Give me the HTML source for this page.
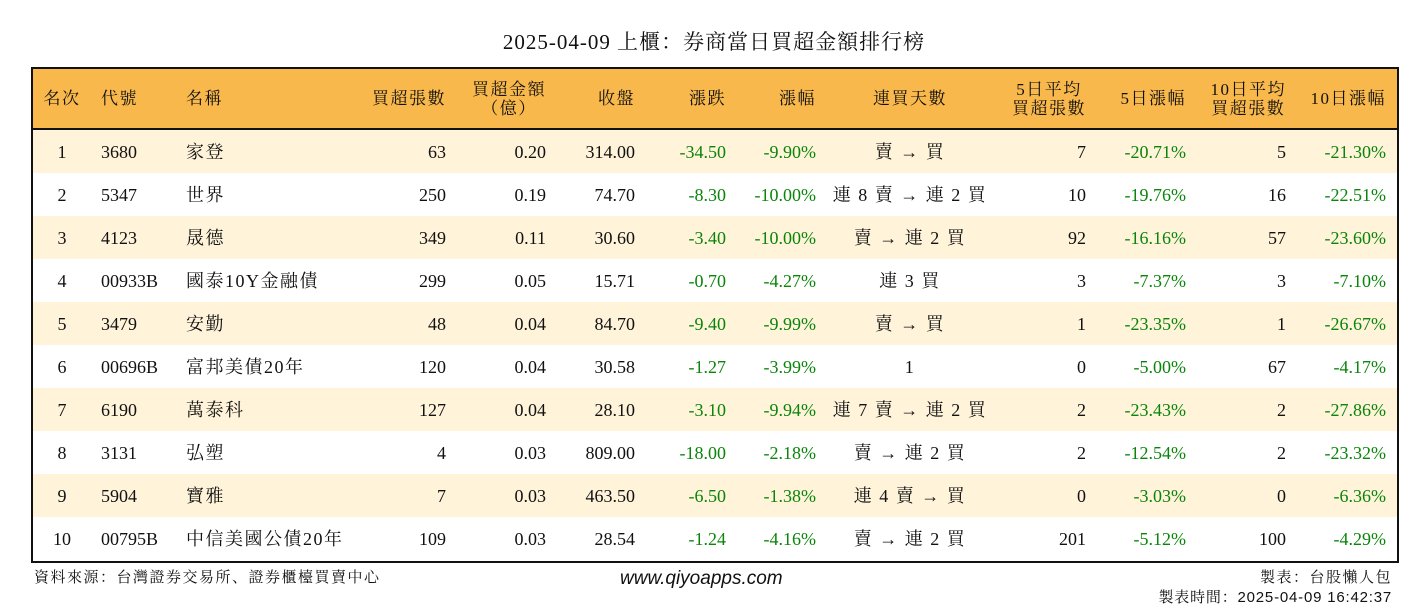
<!DOCTYPE html>
<html><head><meta charset="utf-8">
<style>
body{margin:0;width:1428px;height:612px;background:#fff;position:relative;overflow:hidden;font-family:"Liberation Serif","Noto Serif CJK SC",serif;color:#111}
.a{position:absolute;white-space:nowrap;font-size:18px;line-height:20px}
#tbl{position:absolute;left:31px;top:67px;width:1364px;height:492px;border:2px solid #111}
</style></head><body>
<div class="a" style="left:0;width:1428px;text-align:center;top:30px;font-size:21px;line-height:24px;letter-spacing:1px">2025-04-09 上櫃：券商當日買超金額排行榜</div>
<div id="tbl"></div>
<div class="a" style="left:34px;top:567px;font-size:15px;letter-spacing:1.5px;font-family:'Noto Serif CJK SC',serif">資料來源：台灣證券交易所、證券櫃檯買賣中心</div>
<div class="a" style="left:620px;top:569px;font-size:19px;font-style:italic;font-family:'Liberation Sans',sans-serif">www.qiyoapps.com</div>
<div class="a" style="right:36px;top:567px;font-size:15px;letter-spacing:1.5px;font-family:'Noto Serif CJK SC',serif">製表：台股懶人包</div>
<div class="a" style="right:36px;top:588px;font-size:15px;letter-spacing:0.8px;font-family:'Liberation Sans','Noto Serif CJK SC',sans-serif">製表時間：2025-04-09 16:42:37</div>
<script>
const headers=["名次","代號","名稱","買超張數","買超金額<br>（億）","收盤","漲跌","漲幅","連買天數","5日平均<br>買超張數","5日漲幅","10日平均<br>買超張數","10日漲幅"];
const ranks=["1","2","3","4","5","6","7","8","9","10"];
const codes=["3680","5347","4123","00933B","3479","00696B","6190","3131","5904","00795B"];
const names=["家登","世界","晟德","國泰10Y金融債","安勤","富邦美債20年","萬泰科","弘塑","寶雅","中信美國公債20年"];
const buyLots=["63","250","349","299","48","120","127","4","7","109"];
const buyAmt=["0.20","0.19","0.11","0.05","0.04","0.04","0.04","0.03","0.03","0.03"];
const closes=["314.00","74.70","30.60","15.71","84.70","30.58","28.10","809.00","463.50","28.54"];
const changes=["-34.50","-8.30","-3.40","-0.70","-9.40","-1.27","-3.10","-18.00","-6.50","-1.24"];
const pcts=["-9.90%","-10.00%","-10.00%","-4.27%","-9.99%","-3.99%","-9.94%","-2.18%","-1.38%","-4.16%"];
const streaks=["賣 → 買","連 8 賣 → 連 2 買","賣 → 連 2 買","連 3 買","賣 → 買","1","連 7 賣 → 連 2 買","賣 → 連 2 買","連 4 賣 → 買","賣 → 連 2 買"];
const avg5=["7","10","92","3","1","0","2","2","0","201"];
const pct5=["-20.71%","-19.76%","-16.16%","-7.37%","-23.35%","-5.00%","-23.43%","-12.54%","-3.03%","-5.12%"];
const avg10=["5","16","57","3","1","67","2","2","0","100"];
const pct10=["-21.30%","-22.51%","-23.60%","-7.10%","-26.67%","-4.17%","-27.86%","-23.32%","-6.36%","-4.29%"];
const cols=[["c",29],["l",68],["l",153],["r",413],["r",513],["r",602],["r",693],["r",783],["c",877],["r",1053],["r",1153],["r",1253],["r",1353]];
const names2=["rank","code","name","buy-lots","buy-amount","close","change","change-pct","streak","avg5-lots","pct5","avg10-lots","pct10"];
const tbl=document.getElementById('tbl');
function cell(parent,html,ci,top,h,green){
  const d=document.createElement('div');
  d.className='a';
  const [al,x]=cols[ci];
  d.style.top=top+'px';d.style.height=h+'px';d.style.display='flex';d.style.alignItems='center';
  if(al==='l'){d.style.left=x+'px';}
  else if(al==='r'){d.style.right=(1364-x)+'px';d.style.justifyContent='flex-end';d.style.textAlign='center';}
  else {d.style.left=(x-150)+'px';d.style.width='300px';d.style.justifyContent='center';}
  if(green)d.style.color='#0a850a';
  d.innerHTML=html;
  parent.appendChild(d);
  return d;
}
const hdr=document.createElement('div');


hdr.style.cssText='position:absolute;left:0;top:0;width:1364px;height:59px;background:#F9B84B;border-bottom:2px solid #111';
tbl.appendChild(hdr);
headers.forEach((h,i)=>{const d=cell(hdr,h,i,0,59,false);d.style.lineHeight='19px';d.style.letterSpacing='1.5px';d.style.fontFamily="'Liberation Serif','Noto Serif CJK SC',serif";d.style.fontSize='17px';

});
const data=[ranks,codes,names,buyLots,buyAmt,closes,changes,pcts,streaks,avg5,pct5,avg10,pct10];
for(let r=0;r<ranks.length;r++){
  const row=document.createElement('div');
  
  
  const top=61+r*43;
  row.style.cssText='position:absolute;left:0;width:1364px;top:'+top+'px;height:43px;background:'+(r%2===0?'#FFF3DA':'#fff');
  tbl.appendChild(row);
  data.forEach((arr,ci)=>{
    const green=(ci===6||ci===7||ci===10||ci===12);
    const d=cell(row,arr[r],ci,0,43,green);
    if(ci===2||ci===8){d.style.fontFamily="'Liberation Serif','Noto Serif CJK SC',serif";d.style.letterSpacing='1.5px';}
    
    
  });
}
</script>
</body></html>
